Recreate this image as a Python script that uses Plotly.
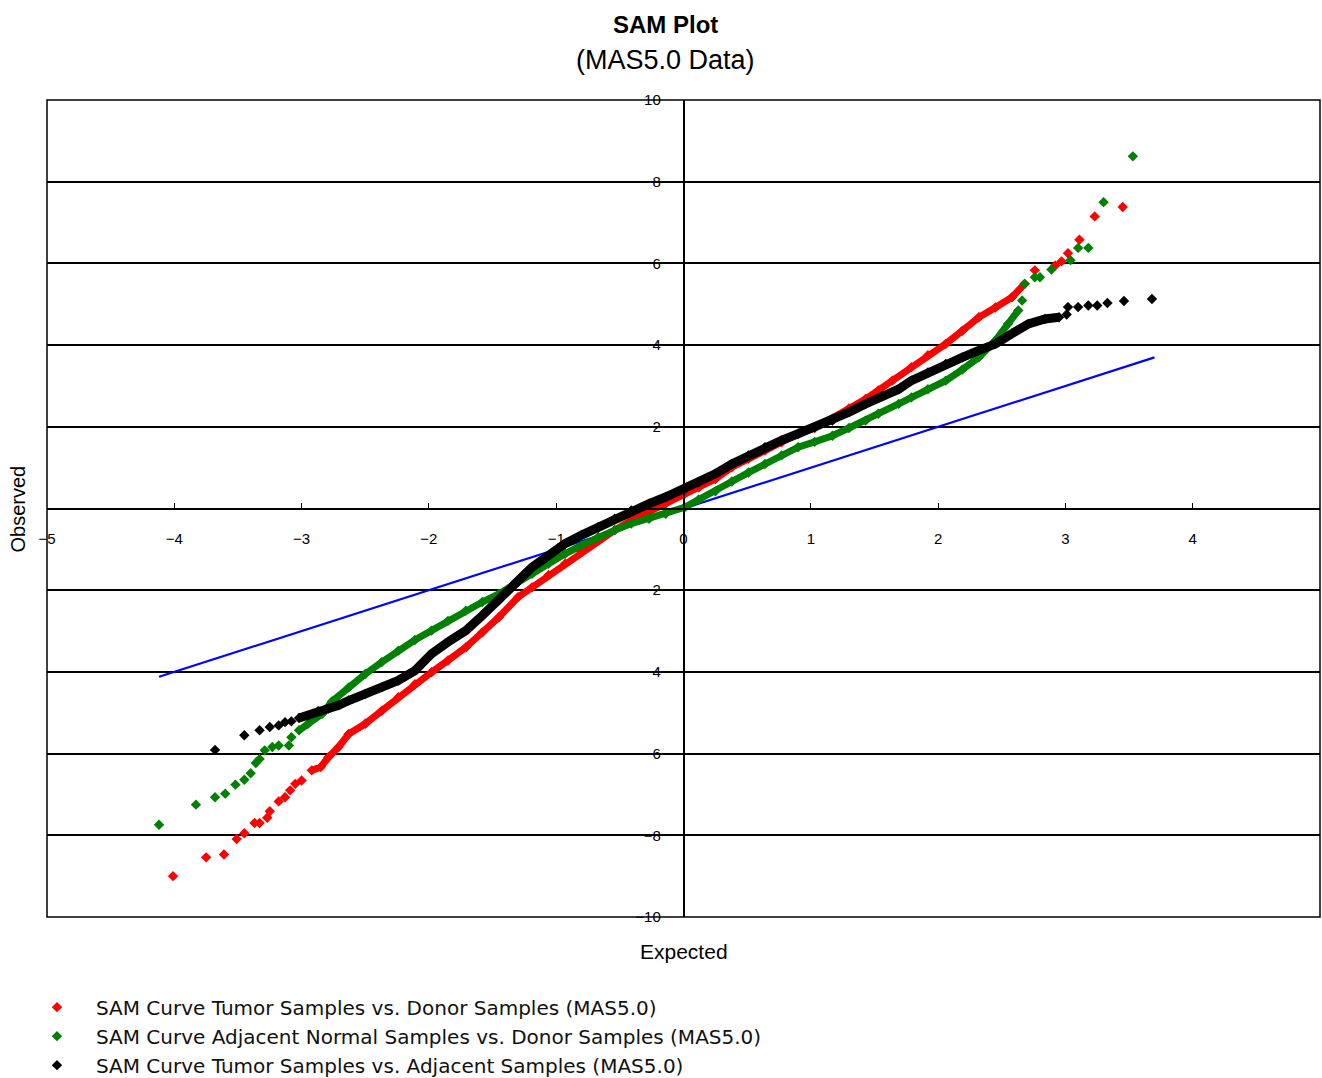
import plotly.graph_objects as go
import numpy as np

# ---- data ----
red_x = [-4.01, -3.75, -3.61, -3.51, -3.45, -3.37, -3.33, -3.27, -3.25, -3.18, -3.13, -3.09, -3.05, -3.00,
         -2.92, -2.85, -2.79, -2.71, -2.63, -2.50, -2.37, -2.24, -2.11, -1.98, -1.85, -1.71, -1.58, -1.45,
         -1.30, -1.19, -1.06, -0.93, -0.80, -0.67, -0.54, -0.41, -0.27, -0.14, 0.01, 0.12, 0.25, 0.38, 0.51,
         0.64, 0.77, 0.90, 1.03, 1.17, 1.30, 1.43, 1.53, 1.64, 1.79, 1.92, 2.06, 2.19, 2.32, 2.45, 2.58,
         2.68, 2.76, 2.92, 2.97, 3.02, 3.11, 3.23, 3.45]
red_y = [-9.00, -8.54, -8.47, -8.09, -7.95, -7.70, -7.70, -7.57, -7.41, -7.17, -7.07, -6.90, -6.74, -6.66,
         -6.41, -6.33, -6.09, -5.84, -5.52, -5.27, -4.95, -4.62, -4.30, -4.01, -3.72, -3.40, -3.03, -2.66,
         -2.17, -1.93, -1.63, -1.35, -1.06, -0.78, -0.53, -0.29, -0.08, 0.12, 0.36, 0.52, 0.72, 1.01, 1.22,
         1.42, 1.62, 1.83, 1.97, 2.20, 2.45, 2.68, 2.89, 3.13, 3.46, 3.75, 4.03, 4.35, 4.68, 4.92, 5.17,
         5.50, 5.83, 5.95, 6.05, 6.25, 6.58, 7.15, 7.38]

green_x = [-4.12, -3.83, -3.68, -3.60, -3.52, -3.45, -3.40, -3.36, -3.33, -3.29, -3.23, -3.18, -3.10, -3.08,
           -3.02, -2.95, -2.84, -2.76, -2.63, -2.50, -2.37, -2.24, -2.11, -1.98, -1.85, -1.71, -1.58, -1.45,
           -1.32, -1.19, -1.06, -0.93, -0.80, -0.67, -0.54, -0.41, -0.27, -0.14, 0.01, 0.12, 0.25, 0.38,
           0.51, 0.64, 0.77, 0.90, 1.03, 1.17, 1.30, 1.43, 1.53, 1.69, 1.79, 1.92, 2.06, 2.19, 2.32, 2.45,
           2.55, 2.63, 2.66, 2.68, 2.76, 2.80, 2.89, 3.04, 3.10, 3.18, 3.30, 3.53]
green_y = [-7.74, -7.25, -7.07, -6.98, -6.76, -6.64, -6.48, -6.23, -6.13, -5.92, -5.84, -5.80, -5.80, -5.60,
           -5.43, -5.27, -5.03, -4.72, -4.38, -4.05, -3.76, -3.48, -3.22, -2.99, -2.75, -2.50, -2.29, -2.09,
           -1.84, -1.60, -1.35, -1.11, -0.90, -0.70, -0.53, -0.37, -0.25, -0.13, 0.03, 0.22, 0.42, 0.66,
           0.88, 1.09, 1.30, 1.50, 1.63, 1.78, 1.97, 2.15, 2.32, 2.56, 2.72, 2.92, 3.13, 3.40, 3.70, 4.11,
           4.52, 4.85, 5.09, 5.50, 5.66, 5.66, 5.85, 6.08, 6.38, 6.38, 7.50, 8.62]

black_x = [-3.68, -3.45, -3.33, -3.25, -3.18, -3.13, -3.08, -3.02, -2.95, -2.87, -2.79, -2.71, -2.63, -2.50,
           -2.37, -2.24, -2.11, -1.98, -1.85, -1.71, -1.58, -1.45, -1.30, -1.19, -1.06, -0.93, -0.80, -0.67,
           -0.54, -0.41, -0.27, -0.14, 0.01, 0.12, 0.25, 0.38, 0.51, 0.64, 0.77, 0.90, 1.03, 1.17, 1.30,
           1.43, 1.56, 1.69, 1.79, 1.92, 2.06, 2.19, 2.32, 2.45, 2.58, 2.71, 2.84, 2.95, 3.01, 3.02, 3.10,
           3.18, 3.25, 3.33, 3.46, 3.68]
black_y = [-5.91, -5.55, -5.43, -5.35, -5.31, -5.23, -5.21, -5.13, -5.07, -4.96, -4.90, -4.82, -4.70, -4.54,
           -4.38, -4.21, -3.97, -3.56, -3.27, -2.99, -2.62, -2.25, -1.80, -1.44, -1.15, -0.86, -0.65, -0.46,
           -0.25, -0.05, 0.12, 0.28, 0.48, 0.64, 0.85, 1.09, 1.30, 1.50, 1.67, 1.83, 1.99, 2.15, 2.36,
           2.56, 2.75, 2.92, 3.13, 3.33, 3.54, 3.70, 3.87, 4.03, 4.28, 4.52, 4.64, 4.68, 4.75, 4.93, 4.93,
           4.97, 4.97, 5.03, 5.08, 5.13]

blue_x = [-4.12, 3.70]
blue_y = [-4.12, 3.70]

series_names = [
    "SAM Curve Tumor Samples vs. Donor Samples (MAS5.0)",
    "SAM Curve Adjacent Normal Samples vs. Donor Samples (MAS5.0)",
    "SAM Curve Tumor Samples vs. Adjacent Samples (MAS5.0)",
]
x_tick_vals = [-5, -4, -3, -2, -1, 0, 1, 2, 3, 4, 5]
y_tick_vals = [-10, -8, -6, -4, -2, 2, 4, 6, 8, 10]

# ---- figure ----
FONT = "Liberation Sans, Arial, sans-serif"
LEGEND_FONT = "DejaVu Sans, Liberation Sans, sans-serif"
fig = go.Figure()

fig.add_trace(go.Scatter(x=blue_x, y=blue_y, mode="lines",
                         line=dict(color="#0000ff", width=2.2), showlegend=False, hoverinfo="skip"))

series = [
    (red_x, red_y, "#ff0000", 7, (-2.93, 2.69)),
    (green_x, green_y, "#008000", 7, (-3.03, 2.64)),
    (black_x, black_y, "#000000", 9, (-3.03, 2.96)),
]

for i, (sx, sy, col, lw, (lo, hi)) in enumerate(series):
    ax = np.array(sx)
    ay = np.array(sy)
    m = (ax >= lo) & (ax <= hi)
    fig.add_trace(go.Scatter(x=ax[m], y=ay[m], mode="lines",
                             line=dict(color=col, width=lw), showlegend=False,
                             hoverinfo="skip"))
    fig.add_trace(go.Scatter(x=ax, y=ay, mode="markers", name=series_names[i],
                             marker=dict(symbol="diamond", size=8, color=col)))

fig.update_layout(
    width=1322, height=1078,
    margin=dict(l=47, r=2, t=100, b=161, autoexpand=False),
    paper_bgcolor="white", plot_bgcolor="white",
    font=dict(family=FONT, color="black"),
    showlegend=True,
    legend=dict(x=-0.0228, y=-0.0865, xanchor="left", yanchor="top",
                font=dict(size=20, family=LEGEND_FONT, color="#111111"),
                itemwidth=68, tracegroupgap=0,
                bgcolor="rgba(0,0,0,0)"),
    xaxis=dict(range=[-5, 5], anchor="free", position=0.5, showgrid=False, zeroline=False,
               automargin=False,
               showline=True, linecolor="black", linewidth=1.5,
               tickmode="array", tickvals=x_tick_vals, ticks="inside", ticklen=5,
               tickcolor="black", tickfont=dict(size=15), ticklabelstandoff=17),
    yaxis=dict(range=[-10, 10], anchor="free", position=0.5, showgrid=True,
               automargin=False,
               gridcolor="black", gridwidth=1.5, zeroline=True, zerolinecolor="black",
               zerolinewidth=1.5, showline=True, linecolor="black", linewidth=1.5,
               tickmode="array", tickvals=y_tick_vals, ticks="inside", ticklen=5,
               tickcolor="black", tickfont=dict(size=15), ticklabelstandoff=19),
    shapes=[dict(type="rect", xref="paper", yref="paper", x0=0, x1=1, y0=0, y1=1,
                 line=dict(color="black", width=1.5), layer="above")],
    annotations=[
        dict(text="<b>SAM Plot</b>", x=0.4855, y=1.0918, xref="paper", yref="paper",
             xanchor="center", yanchor="middle",
             showarrow=False, font=dict(size=24, family=FONT)),
        dict(text="(MAS5.0 Data)", x=0.4855, y=1.049, xref="paper", yref="paper",
             xanchor="center", yanchor="middle",
             showarrow=False, font=dict(size=27, family=FONT)),
        dict(text="Expected", x=0.5, y=-0.0428, xref="paper", yref="paper",
             xanchor="center", yanchor="middle",
             showarrow=False, font=dict(size=21, family=FONT)),
        dict(text="Observed", x=-0.0228, y=0.5, xref="paper", yref="paper",
             xanchor="center", yanchor="middle",
             showarrow=False, textangle=-90, font=dict(size=20, family=FONT)),
    ],
)

fig.write_html("out.html", config={"displayModeBar": False},
               post_script="document.body.style.margin='0';document.body.style.overflow='hidden';")
